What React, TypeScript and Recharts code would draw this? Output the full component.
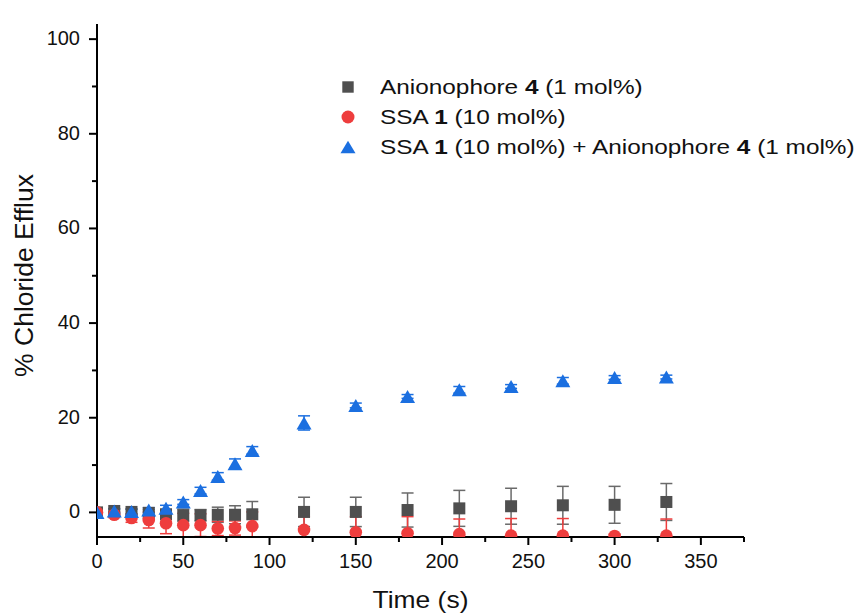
import React from 'react';
import * as R from 'recharts';
import { ScatterChart, Scatter, XAxis, YAxis, ErrorBar, Legend } from 'recharts';

const times = [0, 10, 20, 30, 40, 50, 60, 70, 80, 90, 120, 150, 180, 210, 240, 270, 300, 330];

const anionophore = [0, 0.3, 0.1, -0.1, -0.4, -0.6, -0.6, -0.5, -0.5, -0.4, 0.1, 0.1, 0.5, 0.85, 1.3, 1.5, 1.6, 2.2];
const anionophoreErr = [0.3, 0.5, 0.6, 0.7, 1.0, 1.3, 1.2, 1.6, 1.9, 2.7, 3.1, 3.1, 3.6, 3.8, 3.8, 4.0, 3.9, 3.9];

const ssa = [0, -0.5, -1.2, -1.6, -2.3, -2.7, -2.7, -3.4, -3.3, -2.9, -3.7, -4.2, -4.4, -4.6, -4.9, -4.9, -5.0, -4.9];
const ssaErr = [0.3, 0.6, 0.9, 1.7, 2.2, 2.5, 2.4, 1.5, 1.5, 3.0, 2.8, 3.3, 3.5, 3.2, 3.6, 3.6, 0.4, 3.5];

const combo = [0, 0.3, 0.2, 0.5, 0.9, 2.2, 4.6, 7.6, 10.3, 13.1, 18.9, 22.6, 24.5, 25.9, 26.6, 27.8, 28.5, 28.6];
const comboErr = [0.3, 0.4, 0.5, 0.5, 0.6, 0.5, 0.7, 0.8, 1.0, 0.8, 1.5, 0.5, 0.4, 0.7, 0.4, 0.7, 0.4, 0.4];

const xTicks = [0, 25, 50, 75, 100, 125, 150, 175, 200, 225, 250, 275, 300, 325, 350, 375];
const xLabelled = [0, 50, 100, 150, 200, 250, 300, 350];
const yTicks = [0, 10, 20, 30, 40, 50, 60, 70, 80, 90, 100];
const yLabelled = [0, 20, 40, 60, 80, 100];

const xTitle = 'Time (s)';
const yTitle = '% Chloride Efflux';

// legend labels: alternating [normal, bold, normal, bold, normal]
const legendLabels: string[][] = [
  ['Anionophore ', '4', ' (1 mol%)'],
  ['SSA ', '1', ' (10 mol%)'],
  ['SSA ', '1', ' (10 mol%) + Anionophore ', '4', ' (1 mol%)'],
];

const GRAY = '#4f4f4f';
const GRAY_ERR = '#6a6a6a';
const RED = '#ee3d3d';
const BLUE = '#1b6fe0';
const FONT = '"Liberation Sans", Arial, Helvetica, sans-serif';
const CLIP = 'url(#plotAreaClip)';

const toRows = (vals: number[], errs: number[]) =>
  times.map((t, i) => ({ x: t, y: vals[i], e: errs[i] }));

const grayData = toRows(anionophore, anionophoreErr);
const redData = toRows(ssa, ssaErr);
const blueData = toRows(combo, comboErr);

const usePlotAreaSafe: () => any = (R as any).usePlotArea || (() => null);

const PlotClipDef = () => {
  const area = usePlotAreaSafe();
  const a = area || { x: 97, y: 24, width: 647, height: 513 };
  return (
    <g>
      <defs>
        <clipPath id="plotAreaClip">
          <rect x={a.x} y={a.y} width={a.width} height={a.height} />
        </clipPath>
      </defs>
      <style>{`.recharts-scatter, .recharts-errorBar, .recharts-scatter-symbol { clip-path: ${CLIP}; }`}</style>
    </g>
  );
};

const SquareShape = (p: any) => (
  <rect x={p.cx - 6} y={p.cy - 6} width={12} height={12} fill={GRAY} clipPath={CLIP} />
);
const CircleShape = (p: any) => <circle cx={p.cx} cy={p.cy} r={6.3} fill={RED} clipPath={CLIP} />;
const TriangleShape = (p: any) => (
  <polygon
    points={`${p.cx},${p.cy - 6.5} ${p.cx + 7.5},${p.cy + 6.5} ${p.cx - 7.5},${p.cy + 6.5}`}
    fill={BLUE}
    clipPath={CLIP}
  />
);

const XTick = (props: any) => {
  const { x, y, payload } = props;
  const v = payload.value;
  const major = xLabelled.includes(v);
  return (
    <g>
      <line x1={x} x2={x} y1={y} y2={y + (major ? 8 : 5)} stroke="#000" strokeWidth={2} />
      {major && (
        <text x={x} y={y + 31} textAnchor="middle" fontSize={20} fontFamily={FONT} fill="#111">
          {v}
        </text>
      )}
    </g>
  );
};

const YTick = (props: any) => {
  const { x, y, payload } = props;
  const v = payload.value;
  const major = yLabelled.includes(v);
  return (
    <g>
      <line x1={x - (major ? 8 : 5)} x2={x} y1={y} y2={y} stroke="#000" strokeWidth={2} />
      {major && (
        <text x={x - 17} y={y + 6} textAnchor="end" fontSize={20} fontFamily={FONT} fill="#111">
          {v}
        </text>
      )}
    </g>
  );
};

const XTitle = (props: any) => {
  const vb = props.viewBox || { x: 97, y: 537, width: 647, height: 79 };
  const cx = vb.x + vb.width / 2;
  const by = vb.y + 71;
  return (
    <text
      x={cx}
      y={by}
      textAnchor="middle"
      fontSize={23}
      fontFamily={FONT}
      fill="#111"
      transform={`translate(${cx},${by}) scale(1.15,1) translate(${-cx},${-by})`}
    >
      {xTitle}
    </text>
  );
};

const YTitle = (props: any) => {
  const vb = props.viewBox || { x: 0, y: 24, width: 97, height: 513 };
  const cy = vb.y + vb.height / 2 - 5;
  return (
    <text
      x={0}
      y={0}
      textAnchor="middle"
      fontSize={26.5}
      fontFamily={FONT}
      fill="#111"
      transform={`translate(33,${cy}) rotate(-90)`}
    >
      {yTitle}
    </text>
  );
};

const markerFor = (i: number) => {
  if (i === 0) return <rect x={2.3} y={2.3} width={11.4} height={11.4} fill={GRAY} />;
  if (i === 1) return <circle cx={8} cy={8} r={6.5} fill={RED} />;
  return <polygon points="8,1.8 15.5,14.2 0.5,14.2" fill={BLUE} />;
};

const LegendContent = () => (
  <div style={{ fontFamily: FONT, color: '#111' }}>
    {legendLabels.map((parts, i) => (
      <div key={i} style={{ display: 'flex', alignItems: 'center', height: 30 }}>
        <div style={{ width: 40, height: 16, flexShrink: 0 }}>
          <svg width={16} height={16} style={{ display: 'block' }}>
            {markerFor(i)}
          </svg>
        </div>
        <div
          style={{
            fontSize: 21,
            whiteSpace: 'nowrap',
            transform: 'scaleX(1.16)',
            transformOrigin: 'left center',
          }}
        >
          {parts.map((s, j) =>
            j % 2 === 1 ? (
              <b key={j}>{s}</b>
            ) : (
              <span key={j} style={{ whiteSpace: 'pre' }}>
                {s}
              </span>
            )
          )}
        </div>
      </div>
    ))}
  </div>
);

export default function App() {
  return (
    <div style={{ position: 'absolute', left: 0, top: 0, width: 863, height: 616, background: '#fff' }}>
      <ScatterChart width={863} height={616} margin={{ top: 24, right: 119, bottom: 0, left: 0 }}>
        <PlotClipDef />
        <XAxis
          type="number"
          dataKey="x"
          domain={[0, 375]}
          allowDataOverflow
          ticks={xTicks}
          interval={0}
          tickSize={0}
          tickMargin={0}
          tickLine={false}
          tick={XTick}
          height={79}
          axisLine={{ stroke: '#000', strokeWidth: 2 }}
          label={XTitle}
        />
        <YAxis
          type="number"
          dataKey="y"
          domain={[-5.2, 103.2]}
          allowDataOverflow
          ticks={yTicks}
          interval={0}
          tickSize={0}
          tickMargin={0}
          tickLine={false}
          tick={YTick}
          width={97}
          axisLine={{ stroke: '#000', strokeWidth: 2 }}
          label={YTitle}
        />
        <Legend
          layout="vertical"
          align="center"
          verticalAlign="middle"
          content={LegendContent}
          wrapperStyle={{ position: 'absolute', left: 340, top: 72, width: 'auto', height: 'auto' }}
        />
        <Scatter data={grayData} dataKey="y" shape={SquareShape} isAnimationActive={false}>
          <ErrorBar dataKey="e" direction="y" width={6} stroke={GRAY_ERR} strokeWidth={1.5} clipPath={CLIP} />
        </Scatter>
        <Scatter data={redData} dataKey="y" shape={CircleShape} isAnimationActive={false}>
          <ErrorBar dataKey="e" direction="y" width={6} stroke={RED} strokeWidth={1.5} clipPath={CLIP} />
        </Scatter>
        <Scatter data={blueData} dataKey="y" shape={TriangleShape} isAnimationActive={false}>
          <ErrorBar dataKey="e" direction="y" width={6} stroke={BLUE} strokeWidth={1.5} clipPath={CLIP} />
        </Scatter>
      </ScatterChart>
    </div>
  );
}
